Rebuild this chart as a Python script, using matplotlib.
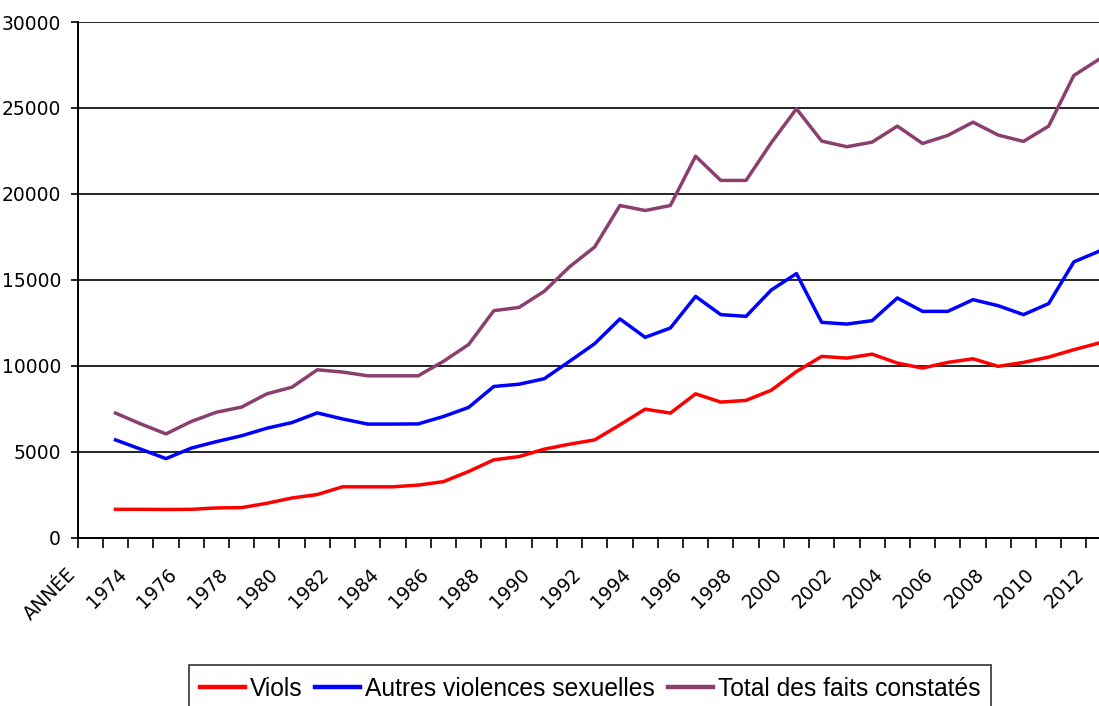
import numpy as np
import matplotlib
matplotlib.use('Agg')
import matplotlib.pyplot as plt
from matplotlib.transforms import ScaledTranslation

plt.rcParams['font.family'] = ['Liberation Sans', 'DejaVu Sans']

# Values (1973 - 2012)
years = list(range(1973, 2013))
viols = [1640, 1640, 1630, 1640, 1720, 1740, 1990, 2300, 2500, 2950,
         2950, 2950, 3050, 3250, 3840, 4520, 4710, 5140, 5430, 5680,
         6560, 7470, 7240, 8360, 7880, 7980, 8570, 9660, 10540, 10440,
         10670, 10150, 9860, 10190, 10400, 9960, 10190, 10500, 10930, 11320]
autres = [5680, 5140, 4590, 5200, 5580, 5920, 6360, 6690, 7250, 6900,
          6600, 6600, 6610, 7040, 7570, 8790, 8920, 9240, 10250, 11280,
          12720, 11650, 12190, 14030, 12970, 12870, 14400, 15360, 12520, 12420,
          12620, 13940, 13160, 13160, 13840, 13490, 12970, 13610, 16040, 16660]
total = [7240, 6610, 6030, 6750, 7290, 7590, 8360, 8750, 9760, 9630,
         9410, 9410, 9410, 10250, 11230, 13200, 13390, 14330, 15750, 16910,
         19320, 19030, 19320, 22190, 20780, 20780, 22970, 24950, 23070, 22740,
         23010, 23940, 22930, 23400, 24170, 23420, 23050, 23940, 26890, 27830]

# Category axis: first category is the "ANNÉE" header, then the years
categories = ['ANNÉE'] + [str(y) for y in years]
x = np.arange(1, len(years) + 1)

fig = plt.figure(figsize=(10.99, 7.06), dpi=100)
ax = fig.add_axes([77.7 / 1099, (706 - 537.5) / 706, 1034 / 1099, 515.5 / 706])

ax.plot(x, viols, color='#FF0000', lw=2.5, label='Viols')
ax.plot(x, autres, color='#0000FF', lw=2.5, label='Autres violences sexuelles')
ax.plot(x, total, color='#8B3F6E', lw=2.5, label='Total des faits constatés')

ax.set_xlim(-0.5, len(categories) - 0.5)
ax.set_ylim(0, 30000)

# y axis
ax.set_yticks(np.arange(0, 30001, 5000))
ax.yaxis.grid(True, color='black', lw=1.2)
ax.set_axisbelow(True)
ax.tick_params(axis='y', direction='out', length=5, width=1.2, pad=7,
               colors='black')
for lab in ax.get_yticklabels():
    lab.set_family(['DejaVu Sans'])
    lab.set_fontsize(13.5)

# x axis: tick marks between categories, labels every other category
ax.set_xticks(np.arange(-0.5, len(categories), 1.0), minor=True)
ax.set_xticks(np.arange(0, len(categories), 2))
ax.set_xticklabels(categories[::2], rotation=45, ha='right',
                   rotation_mode='anchor', fontsize=13.5, family=['DejaVu Sans'])
ax.tick_params(axis='x', which='major', length=0, pad=19.5)
ax.tick_params(axis='x', which='minor', direction='out', length=7, width=1.2)
shift = ScaledTranslation(-0.24, 0, fig.dpi_scale_trans)
for lab in ax.get_xticklabels():
    lab.set_transform(lab.get_transform() + shift)

for side in ['top', 'right']:
    ax.spines[side].set_visible(False)
for side in ['left', 'bottom']:
    ax.spines[side].set_linewidth(1.4)
    ax.spines[side].set_color('black')

leg = fig.legend(loc='center', bbox_to_anchor=(590 / 1099, 17.5 / 706), ncol=3,
                 fontsize=17.7, frameon=True, fancybox=False,
                 handlelength=1.83, handletextpad=0.2, columnspacing=0.53,
                 borderpad=0.45, borderaxespad=0)
leg.get_frame().set_edgecolor('black')
leg.get_frame().set_linewidth(1.2)
for line in leg.get_lines():
    line.set_linewidth(3.2)

fig.savefig('out.png', dpi=100)
